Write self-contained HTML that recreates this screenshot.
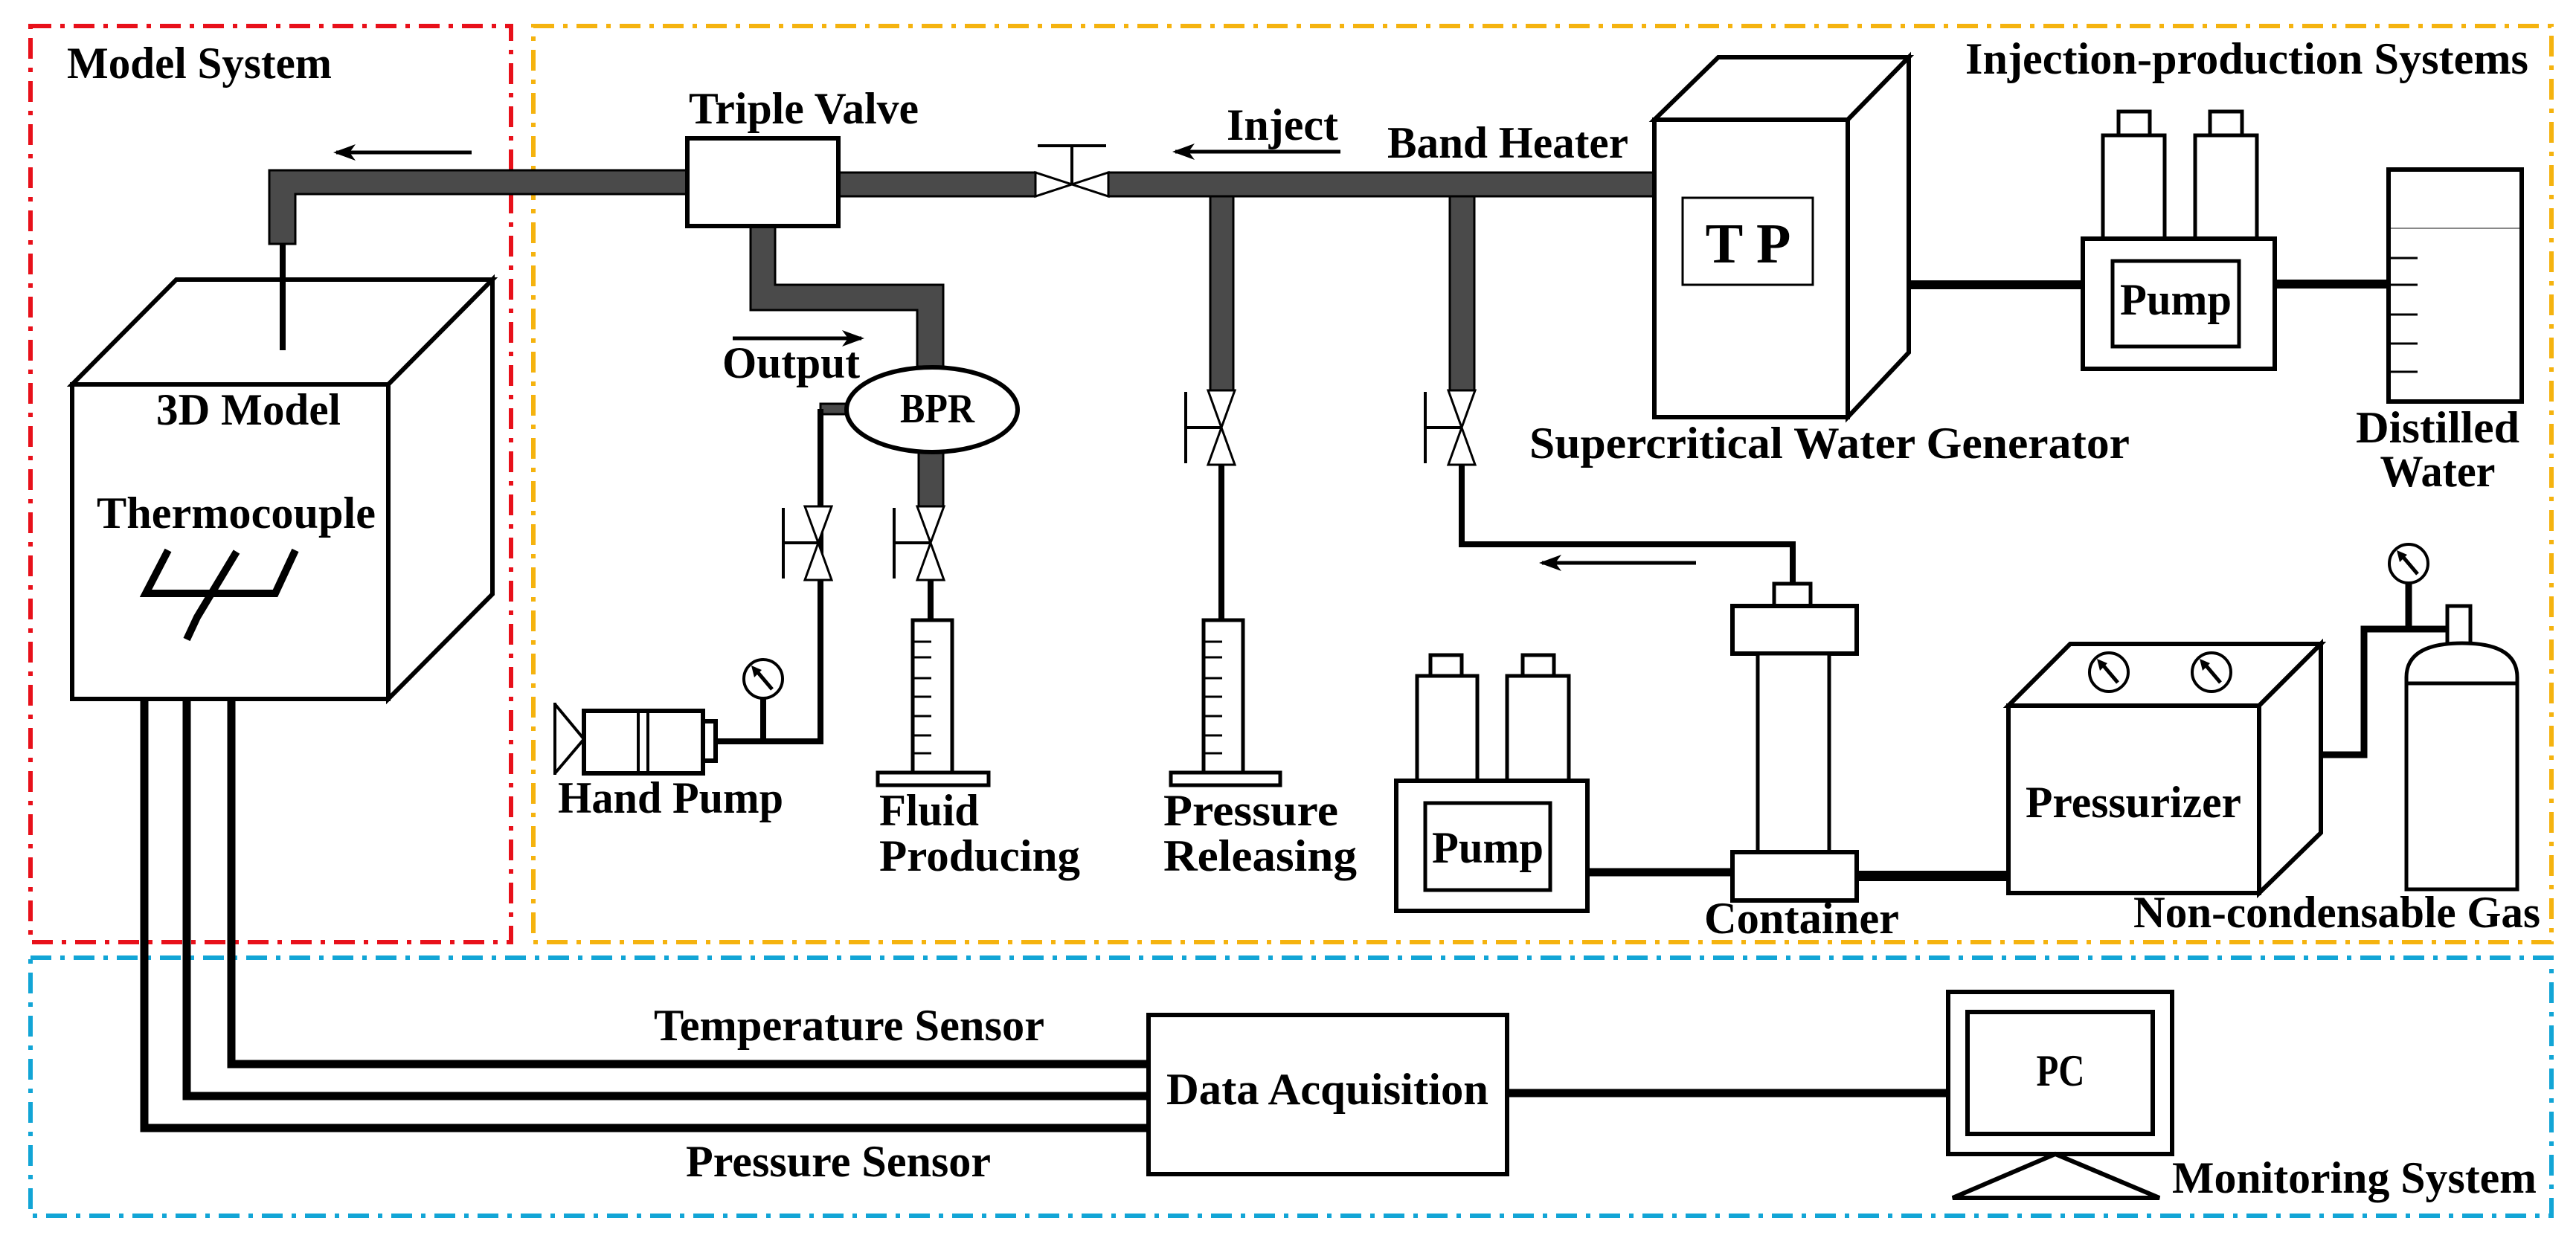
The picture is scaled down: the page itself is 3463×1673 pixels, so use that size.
<!DOCTYPE html>
<html><head><meta charset="utf-8"><style>html,body{margin:0;padding:0;background:#fff}svg{display:block}text{font-family:"Liberation Serif",serif;font-weight:bold;fill:#000}</style></head>
<body>
<svg width="3463" height="1673" viewBox="0 0 3463 1673" xmlns="http://www.w3.org/2000/svg">
<defs>
<marker id="ah" markerWidth="30" markerHeight="22" refX="26" refY="11" orient="auto" markerUnits="userSpaceOnUse" viewBox="0 0 30 22"><path d="M0,0 L30,11 L0,22 L8,11 z" fill="#000"/></marker>
<g id="gauge"><circle cx="0" cy="0" r="26" fill="#fff" stroke="#000" stroke-width="4"/><line x1="12" y1="14" x2="-10" y2="-12" stroke="#000" stroke-width="5"/><path d="M-16,-18 L-2,-12 L-12,-2 z" fill="#000"/></g>
</defs>
<rect width="3463" height="1673" fill="#fff"/>

<g fill="none" stroke-width="6" stroke-dasharray="28 12 6 12">
<rect x="41" y="35" width="646" height="1232" stroke="#e8101a"/>
<rect x="717" y="35" width="2713" height="1232" stroke="#f5b30f"/>
<rect x="41" y="1288" width="3389" height="347" stroke="#12a5d6"/>
</g>

<text x="90" y="105" font-size="60" textLength="356" lengthAdjust="spacingAndGlyphs">Model System</text>
<text x="2642" y="99" font-size="60" textLength="757" lengthAdjust="spacingAndGlyphs">Injection-production Systems</text>
<text x="2920" y="1604" font-size="60" textLength="490" lengthAdjust="spacingAndGlyphs">Monitoring System</text>

<g fill="none" stroke="#000" stroke-width="11">
<polyline points="311,940 311,1431 1544,1431"/>
<polyline points="251,860 251,1474 1544,1474"/>
<polyline points="194,940 194,1517 1544,1517"/>
<line x1="2026" y1="1470" x2="2619" y2="1470"/>
</g>

<g fill="#fff" stroke="#000" stroke-width="6" stroke-linejoin="miter">
<polygon points="97,517 237,376 662,376 522,517"/>
<polygon points="522,517 662,376 662,799 522,940"/>
<rect x="97" y="517" width="425" height="423"/>
</g>
<line x1="380" y1="328" x2="380" y2="471" stroke="#000" stroke-width="8"/>
<text x="210" y="571" font-size="60" textLength="248" lengthAdjust="spacingAndGlyphs">3D Model</text>
<text x="130" y="710" font-size="60" textLength="375" lengthAdjust="spacingAndGlyphs">Thermocouple</text>
<g fill="none" stroke="#000" stroke-width="10">
<polyline points="226,740 196,798 370,798 397,740"/>
<polyline points="318,742 265,830 251,860"/>
</g>

<g fill="#4a4a4a" stroke="#000" stroke-width="3">
<path d="M362,229 L924,229 L924,261 L397,261 L397,328 L362,328 z"/>
<rect x="1127" y="232" width="265" height="32"/>
<rect x="1490" y="232" width="734" height="32"/>
<path d="M1009,304 L1042,304 L1042,383 L1268,383 L1268,493 L1233,493 L1233,417 L1009,417 z"/>
<rect x="1235" y="606" width="33" height="75"/>
<rect x="1627" y="264" width="31" height="261"/>
<rect x="1949" y="264" width="33" height="261"/>
<rect x="1103" y="543" width="36" height="14"/>
</g>

<g stroke="#000" stroke-width="5" fill="none">
<line x1="634" y1="205" x2="452" y2="205" marker-end="url(#ah)"/>
<line x1="1802" y1="204" x2="1580" y2="204" marker-end="url(#ah)"/>
<line x1="985" y1="455" x2="1158" y2="455" marker-end="url(#ah)"/>
<line x1="2280" y1="757" x2="2073" y2="757" marker-end="url(#ah)"/>
</g>

<rect x="924" y="186" width="203" height="118" fill="#fff" stroke="#000" stroke-width="6"/>
<text x="926" y="166" font-size="60" textLength="309" lengthAdjust="spacingAndGlyphs">Triple Valve</text>
<text x="1649" y="188" font-size="60" textLength="150" lengthAdjust="spacingAndGlyphs">Inject</text>
<text x="1865" y="212" font-size="60" textLength="324" lengthAdjust="spacingAndGlyphs">Band Heater</text>
<text x="971" y="508" font-size="60" textLength="185" lengthAdjust="spacingAndGlyphs">Output</text>

<g fill="#fff" stroke="#000" stroke-width="3">
<polygon points="1392,232 1392,264 1441,248"/>
<polygon points="1490,232 1490,264 1441,248"/>
</g>
<g stroke="#000" stroke-width="4"><line x1="1441" y1="248" x2="1441" y2="196"/><line x1="1395" y1="196" x2="1487" y2="196"/></g>

<ellipse cx="1253" cy="551" rx="115" ry="57" fill="#fff" stroke="#000" stroke-width="6"/>
<text x="1260" y="568" font-size="56" text-anchor="middle" textLength="100" lengthAdjust="spacingAndGlyphs">BPR</text>

<g fill="none" stroke="#000" stroke-width="8">
<polyline points="1103,550 1103,997 960,997"/>
<line x1="1026" y1="940" x2="1026" y2="997"/>
<line x1="1251" y1="780" x2="1251" y2="834"/>
<line x1="1642" y1="625" x2="1642" y2="834"/>
<polyline points="1965,625 1965,732 2410,732 2410,785"/>
</g>

<g fill="#fff" stroke="#000" stroke-width="3">
<polygon points="1082,681 1118,681 1100,730"/><polygon points="1082,780 1118,780 1100,730"/>
<polygon points="1233,681 1269,681 1251,730"/><polygon points="1233,780 1269,780 1251,730"/>
<polygon points="1624,525 1660,525 1642,575"/><polygon points="1624,625 1660,625 1642,575"/>
<polygon points="1947,525 1983,525 1965,575"/><polygon points="1947,625 1983,625 1965,575"/>
</g>
<g stroke="#000" stroke-width="4">
<line x1="1100" y1="730" x2="1053" y2="730"/><line x1="1053" y1="683" x2="1053" y2="778"/>
<line x1="1251" y1="730" x2="1202" y2="730"/><line x1="1202" y1="683" x2="1202" y2="778"/>
<line x1="1642" y1="575" x2="1594" y2="575"/><line x1="1594" y1="527" x2="1594" y2="623"/>
<line x1="1965" y1="575" x2="1916" y2="575"/><line x1="1916" y1="527" x2="1916" y2="623"/>
</g>

<use href="#gauge" x="1026" y="913"/>
<g fill="#fff" stroke="#000" stroke-width="6">
<rect x="945" y="970" width="17" height="53"/>
<rect x="785" y="956" width="160" height="84"/>
</g>
<g stroke="#000" stroke-width="4" fill="none">
<line x1="858" y1="956" x2="858" y2="1040"/><line x1="871" y1="956" x2="871" y2="1040"/>
<polyline points="746,947 785,994 746,1040"/><line x1="746" y1="945" x2="746" y2="1042"/>
</g>
<text x="750" y="1093" font-size="60" textLength="303" lengthAdjust="spacingAndGlyphs">Hand Pump</text>

<g fill="#fff" stroke="#000" stroke-width="5">
<rect x="1227" y="834" width="53" height="206"/>
<rect x="1180" y="1039" width="149" height="17"/>
<rect x="1618" y="834" width="53" height="206"/>
<rect x="1574" y="1039" width="147" height="17"/>
</g>
<g stroke="#000" stroke-width="3">
<line x1="1227" y1="863" x2="1252" y2="863"/><line x1="1227" y1="884" x2="1252" y2="884"/><line x1="1227" y1="912" x2="1252" y2="912"/><line x1="1227" y1="937" x2="1252" y2="937"/><line x1="1227" y1="963" x2="1252" y2="963"/><line x1="1227" y1="989" x2="1252" y2="989"/><line x1="1227" y1="1013" x2="1252" y2="1013"/>
<line x1="1618" y1="863" x2="1643" y2="863"/><line x1="1618" y1="884" x2="1643" y2="884"/><line x1="1618" y1="912" x2="1643" y2="912"/><line x1="1618" y1="937" x2="1643" y2="937"/><line x1="1618" y1="963" x2="1643" y2="963"/><line x1="1618" y1="989" x2="1643" y2="989"/><line x1="1618" y1="1013" x2="1643" y2="1013"/>
</g>
<text x="1182" y="1110" font-size="60" textLength="134" lengthAdjust="spacingAndGlyphs">Fluid</text>
<text x="1182" y="1171" font-size="60" textLength="270" lengthAdjust="spacingAndGlyphs">Producing</text>
<text x="1564" y="1110" font-size="60" textLength="235" lengthAdjust="spacingAndGlyphs">Pressure</text>
<text x="1564" y="1171" font-size="60" textLength="260" lengthAdjust="spacingAndGlyphs">Releasing</text>

<g fill="#fff" stroke="#000" stroke-width="6">
<polygon points="2224,161 2310,77 2566,77 2484,161"/>
<polygon points="2484,161 2566,77 2566,474 2484,561"/>
<rect x="2224" y="161" width="260" height="400"/>
<rect x="2262" y="266" width="175" height="117" stroke-width="3"/>
</g>
<text x="2350" y="353" font-size="76" text-anchor="middle">T  P</text>
<text x="2056" y="616" font-size="60" textLength="807" lengthAdjust="spacingAndGlyphs">Supercritical  Water Generator</text>

<g stroke="#000" stroke-width="12"><line x1="2566" y1="383" x2="2800" y2="383"/><line x1="3058" y1="382" x2="3211" y2="382"/></g>
<g fill="#fff" stroke="#000" stroke-width="5">
<rect x="2848" y="150" width="42" height="32"/><rect x="2971" y="150" width="43" height="32"/>
<rect x="2827" y="182" width="83" height="139"/><rect x="2951" y="182" width="83" height="139"/>
<rect x="2800" y="321" width="258" height="175" stroke-width="6"/>
<rect x="2840" y="351" width="170" height="115"/>
</g>
<text x="2925" y="423" font-size="60" text-anchor="middle" textLength="150" lengthAdjust="spacingAndGlyphs">Pump</text>

<rect x="3211" y="228" width="179" height="312" fill="#fff" stroke="#000" stroke-width="6"/>
<line x1="3214" y1="307" x2="3387" y2="307" stroke="#888" stroke-width="2"/>
<g stroke="#000" stroke-width="3"><line x1="3211" y1="347" x2="3250" y2="347"/><line x1="3211" y1="383" x2="3250" y2="383"/><line x1="3211" y1="423" x2="3250" y2="423"/><line x1="3211" y1="462" x2="3250" y2="462"/><line x1="3211" y1="500" x2="3250" y2="500"/></g>
<text x="3277" y="595" font-size="60" text-anchor="middle" textLength="220" lengthAdjust="spacingAndGlyphs">Distilled</text>
<text x="3277" y="654" font-size="60" text-anchor="middle" textLength="155" lengthAdjust="spacingAndGlyphs">Water</text>

<g stroke="#000" stroke-width="11"><line x1="2134" y1="1173" x2="2329" y2="1173"/><line x1="2496" y1="1178" x2="2700" y2="1178" stroke-width="14"/></g>
<g fill="#fff" stroke="#000" stroke-width="5">
<rect x="1923" y="881" width="42" height="28"/><rect x="2047" y="881" width="42" height="28"/>
<rect x="1905" y="909" width="81" height="141"/><rect x="2026" y="909" width="83" height="141"/>
<rect x="1877" y="1050" width="257" height="175" stroke-width="6"/>
<rect x="1916" y="1080" width="168" height="117"/>
<rect x="2385" y="785" width="49" height="30"/>
<rect x="2329" y="815" width="167" height="64" stroke-width="6"/>
<rect x="2363" y="879" width="96" height="267"/>
<rect x="2329" y="1146" width="167" height="65" stroke-width="6"/>
</g>
<text x="2000" y="1160" font-size="60" text-anchor="middle" textLength="150" lengthAdjust="spacingAndGlyphs">Pump</text>
<text x="2291" y="1255" font-size="60" textLength="262" lengthAdjust="spacingAndGlyphs">Container</text>

<g fill="#fff" stroke="#000" stroke-width="6">
<polygon points="2700,949 2783,866 3120,866 3037,949"/>
<polygon points="3037,949 3120,866 3120,1120 3037,1201"/>
<rect x="2700" y="949" width="337" height="252"/>
</g>
<use href="#gauge" x="2835" y="904"/>
<use href="#gauge" x="2973" y="904"/>
<text x="2868" y="1099" font-size="60" text-anchor="middle" textLength="290" lengthAdjust="spacingAndGlyphs">Pressurizer</text>

<g fill="none" stroke="#000" stroke-width="9"><polyline points="3120,1015 3178,1015 3178,846 3294,846"/><line x1="3238" y1="784" x2="3238" y2="846"/></g>
<use href="#gauge" x="3238" y="758"/>
<g fill="#fff" stroke="#000" stroke-width="5">
<rect x="3290" y="815" width="31" height="52"/>
<path d="M3235,1196 L3235,911 Q3235,865 3310,865 Q3384,865 3384,911 L3384,1196 z"/>
<line x1="3235" y1="919" x2="3384" y2="919"/>
</g>
<text x="2868" y="1247" font-size="60" textLength="547" lengthAdjust="spacingAndGlyphs">Non-condensable Gas</text>

<rect x="1544" y="1365" width="482" height="214" fill="#fff" stroke="#000" stroke-width="6"/>
<text x="1568" y="1485" font-size="60" textLength="433" lengthAdjust="spacingAndGlyphs">Data Acquisition</text>
<text x="879" y="1399" font-size="60" textLength="525" lengthAdjust="spacingAndGlyphs">Temperature Sensor</text>
<text x="922" y="1582" font-size="60" textLength="410" lengthAdjust="spacingAndGlyphs">Pressure Sensor</text>
<g fill="#fff" stroke="#000" stroke-width="6">
<rect x="2619" y="1334" width="301" height="218"/>
<rect x="2645" y="1361" width="249" height="164"/>
<polygon points="2763,1552 2625,1611 2903,1611"/>
</g>
<text x="2770" y="1460" font-size="60" text-anchor="middle" textLength="65" lengthAdjust="spacingAndGlyphs">PC</text>
</svg>
</body></html>
